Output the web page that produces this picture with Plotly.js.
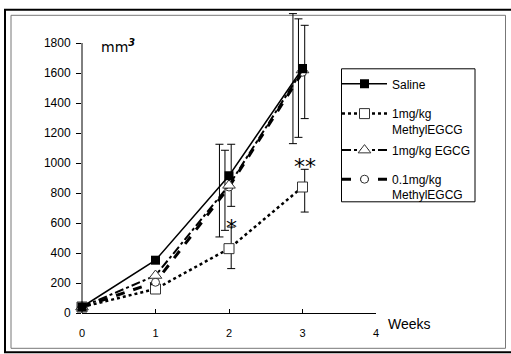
<!DOCTYPE html>
<html>
<head>
<meta charset="utf-8">
<script src="https://cdn.plot.ly/plotly-3.0.1.min.js"></script>
<style>html,body{margin:0;padding:0;background:#fff;}#chart{width:511px;height:354px;}</style>
</head>
<body>
<div id="chart"></div>
<script>
// ---- data ----
const weeks = [0, 1, 2, 3];
const weekTicks = [0, 1, 2, 3, 4];
const seriesNames = ["Saline", "1mg/kg<br>MethylEGCG", "1mg/kg EGCG", "0.1mg/kg<br>MethylEGCG"];
const saline = [40, 352, 915, 1630];
const methyl1 = [40, 160, 429, 840];
const egcg1 = [40, 250, 851, 1620];
const methyl01 = [40, 205, 840, 1605];
// error bars (weeks 2 and 3), upper and lower extents
const errWeeks = [2, 3];
const salineErrUp = [210, 288];
const salineErrDown = [204, 334];
const methyl1ErrUp = [144, 118];
const methyl1ErrDown = [133, 167];
const egcg1ErrUp = [274, 376];
const egcg1ErrDown = [344, 491];
const methyl01ErrUp = [245, 356];
const methyl01ErrDown = [289, 434];
const yTicks = [0, 200, 400, 600, 800, 1000, 1200, 1400, 1600, 1800];
const yMax = 1800;
const stars = [{x: 2, y: 570, t: "*"}, {x: 3, y: 975, t: "**"}];

// ---- drawing ----
const FONT = "Liberation Sans, Arial, sans-serif";
function errTrace(vals, up, down, dx) {
  return {
    x: errWeeks.map(w => w + dx),
    y: errWeeks.map(w => vals[weeks.indexOf(w)]),
    type: "scatter", mode: "markers",
    marker: {size: 1, opacity: 0},
    showlegend: false, hoverinfo: "skip", cliponaxis: false,
    error_y: {type: "data", symmetric: false, array: up, arrayminus: down,
              color: "#000", thickness: 1, width: 4}
  };
}
const traces = [
  errTrace(egcg1, egcg1ErrUp, egcg1ErrDown, -0.13),
  errTrace(methyl01, methyl01ErrUp, methyl01ErrDown, -0.055),
  errTrace(saline, salineErrUp, salineErrDown, 0.03),
  errTrace(methyl1, methyl1ErrUp, methyl1ErrDown, 0.03),
  {x: weeks, y: methyl1, name: seriesNames[1], legend: "legend2", type: "scatter", mode: "lines+markers", cliponaxis: false,
   line: {color: "#000", width: 2.5, dash: "dot"},
   marker: {symbol: "square", size: 10, color: "#fff", line: {color: "#333", width: 1}}},
  {x: weeks, y: methyl01, name: seriesNames[3], legend: "legend4", type: "scatter", mode: "lines+markers", cliponaxis: false,
   line: {color: "#000", width: 3, dash: "dash"},
   marker: {symbol: "circle", size: 8, color: "#fff", line: {color: "#333", width: 1}}},
  {x: weeks, y: egcg1, name: seriesNames[2], legend: "legend3", type: "scatter", mode: "lines+markers", cliponaxis: false,
   line: {color: "#000", width: 2, dash: "dashdot"},
   marker: {symbol: "triangle-up", size: 11, color: "#fff", line: {color: "#333", width: 1}}},
  {x: weeks, y: saline, name: seriesNames[0], legend: "legend", type: "scatter", mode: "lines+markers", cliponaxis: false,
   line: {color: "#000", width: 1.5},
   marker: {symbol: "square", size: 9, color: "#000"}}
];

// plot area: x 82..376 px, y 12.7..312.7 px (range 0..2000)
function px2x(p) { return (p - 82) / 294; }
function py2y(p) { return (312.7 - p) / 300; }
function leg(topPx) {
  return {x: px2x(337), xanchor: "left", y: py2y(topPx), yanchor: "top",
          bgcolor: "rgba(0,0,0,0)", borderwidth: 0,
          font: {family: FONT, size: 12, color: "#000"},
          itemwidth: 45, valign: "top"};
}

const layout = {
  width: 511, height: 354,
  margin: {l: 82, r: 135, t: 12.7, b: 41.3},
  paper_bgcolor: "#fff", plot_bgcolor: "#fff",
  font: {family: FONT, size: 12, color: "#000"},
  showlegend: true,
  legend: leg(69.2), legend2: leg(99), legend3: leg(135.5), legend4: leg(164.6),
  xaxis: {range: [0, 4], tickvals: weekTicks, ticktext: weekTicks.map(String),
          showgrid: false, zeroline: false, showline: true, linecolor: "#000", linewidth: 1,
          ticks: "inside", ticklen: 4, tickcolor: "#000", ticklabelstandoff: 10,
          tickfont: {family: FONT, size: 11}},
  yaxis: {range: [0, 2000], tickvals: yTicks, ticktext: yTicks.map(String),
          showgrid: false, zeroline: false, showline: false,
          ticks: "outside", ticklen: 5, tickcolor: "#000", ticklabelstandoff: 3,
          tickfont: {family: FONT, size: 12}},
  annotations: [
    {xref: "paper", yref: "paper", x: px2x(386), y: py2y(324), xanchor: "left", yanchor: "middle",
     text: "Weeks", showarrow: false, font: {family: FONT, size: 14}},
    {xref: "paper", yref: "paper", x: px2x(99), y: py2y(46), xanchor: "left", yanchor: "middle",
     text: "mm<sup><b><i>3</i></b></sup>", showarrow: false, font: {family: "DejaVu Sans, sans-serif", size: 14}}
  ].concat(stars.map(s => ({x: s.x + 0.04, y: s.y, xref: "x", yref: "y", text: s.t, showarrow: false,
     xanchor: "center", yanchor: "middle", font: {family: "DejaVu Sans, sans-serif", size: 22}}))),
  shapes: [
    {type: "rect", xref: "paper", yref: "paper", x0: px2x(5), x1: px2x(520), y0: py2y(352), y1: py2y(9.5),
     line: {color: "#000", width: 2}, layer: "below"},
    {type: "rect", xref: "paper", yref: "paper", x0: px2x(11), x1: px2x(505.5), y0: py2y(348), y1: py2y(15),
     line: {color: "#777", width: 1}, layer: "below"},
    {type: "line", xref: "paper", yref: "y", x0: 0, x1: 0, y0: 0, y1: yMax,
     line: {color: "#000", width: 1}, layer: "above"},
    {type: "rect", xref: "paper", yref: "paper", x0: px2x(341.5), x1: px2x(475), y0: py2y(201.5), y1: py2y(68.5),
     fillcolor: "#fff", line: {color: "#000", width: 1}, layer: "below"}
  ]
};
Plotly.newPlot("chart", traces, layout, {displayModeBar: false, staticPlot: true});
</script>
</body>
</html>
